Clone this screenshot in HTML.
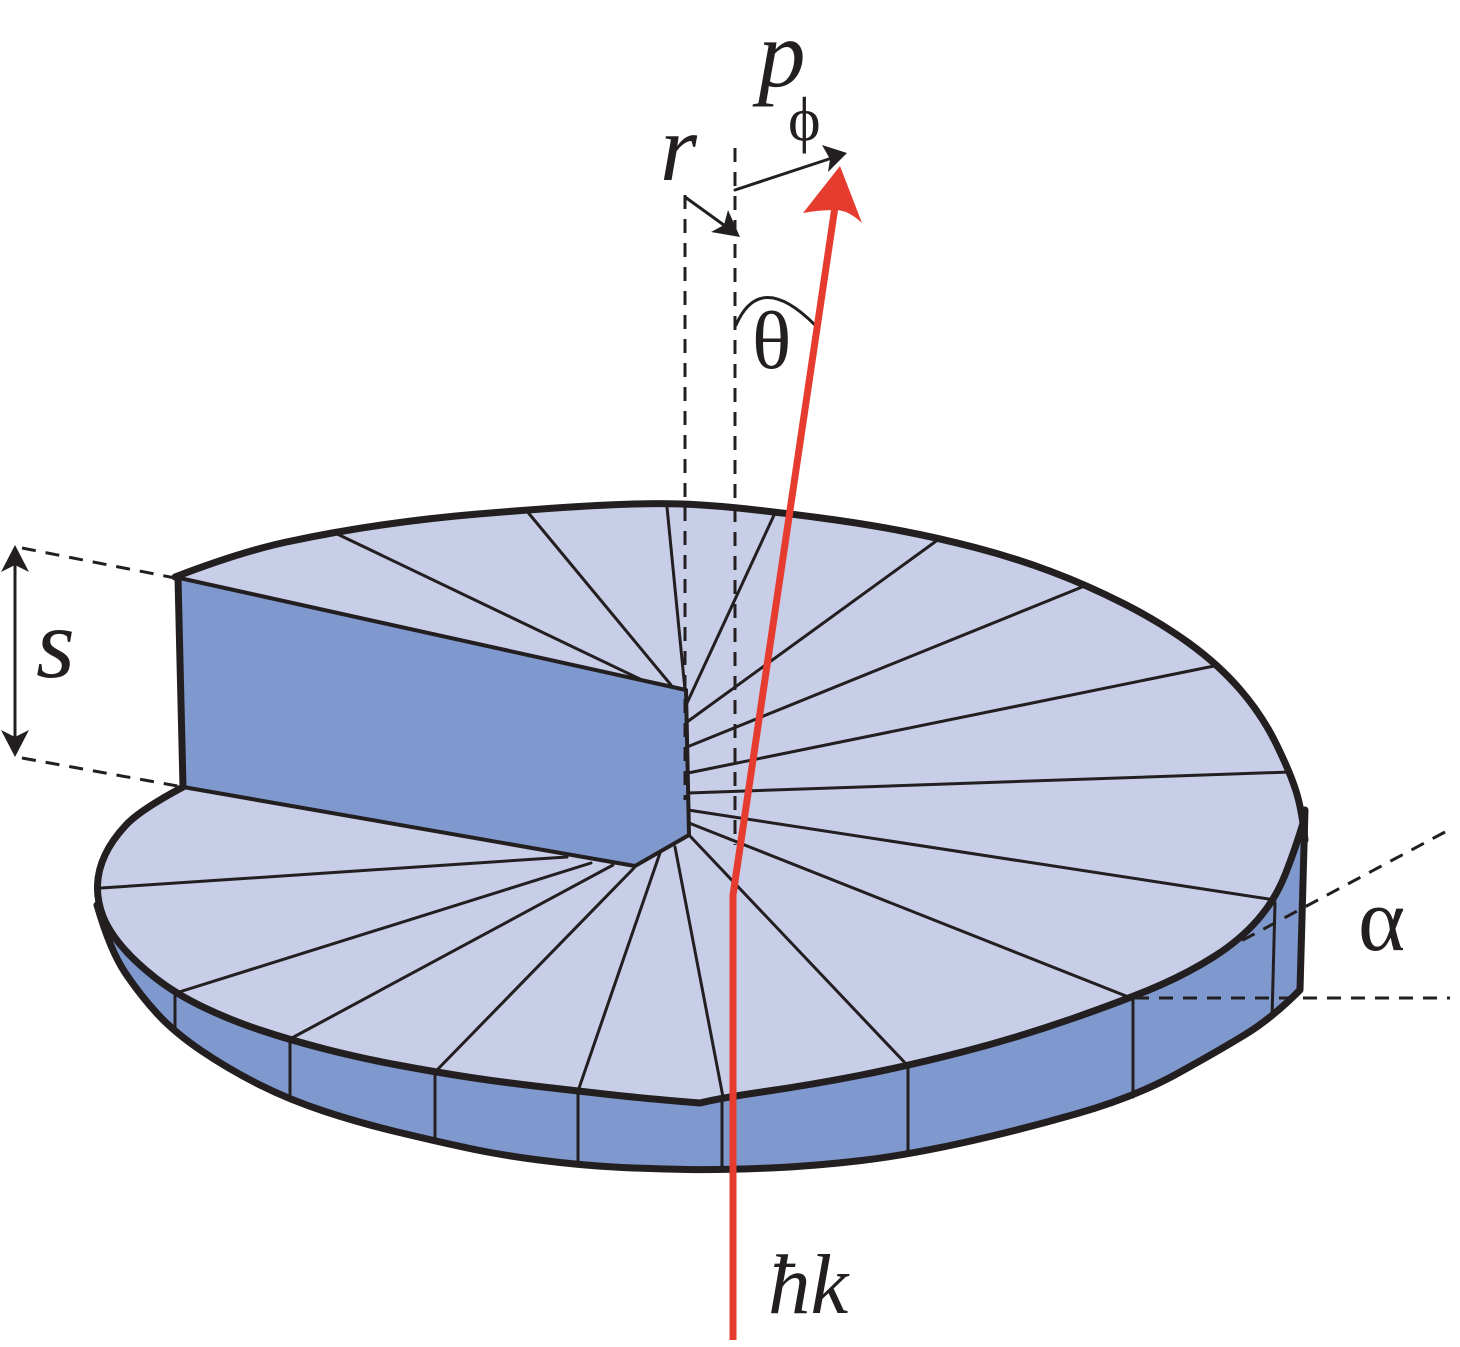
<!DOCTYPE html>
<html><head><meta charset="utf-8"><style>html,body{margin:0;padding:0;background:#fff}svg{display:block}</style></head><body>
<svg width="1460" height="1347" viewBox="0 0 1460 1347" xmlns="http://www.w3.org/2000/svg">
<g stroke="#231f20" fill="none" stroke-linejoin="round" stroke-linecap="round">
<!-- rim side -->
<path fill="#7f98cd" stroke="none" d="M1305,810 L1300,990 Q1272,1018 1246,1034 Q1220,1050 1177.5,1073.5 Q1135,1097 1077.5,1113.5 Q1020,1130 964,1142.5 Q908,1155 861.5,1160.5 Q815,1166 770,1168 Q725,1170 687.5,1169.5 Q650,1169 614,1167 Q578,1165 539,1160 Q500,1155 467.5,1148 Q435,1141 397.5,1132 Q360,1123 325,1111.5 Q290,1100 260,1085 Q230,1070 202.5,1051.5 Q175,1033 157.5,1014 Q140,995 125,972.5 Q110,950 97,905 L97,880 L183,787 L700,700 Z"/>
<!-- top surface -->
<path fill="#c8cde8" stroke="none" d="M175,577 Q240,552 286.5,542 Q333,532 381.5,525 Q430,518 478,514 Q526,510 563,507.5 Q600,505 633.5,504 Q667,503 693.5,504.5 Q720,506 747.5,509 Q775,512 817.5,517.5 Q860,523 899.5,530.5 Q939,538 977,548 Q1015,558 1051,571.5 Q1087,585 1123.5,603.5 Q1160,622 1189.5,643.5 Q1219,665 1240.5,690 Q1262,715 1276,743.5 Q1290,772 1296,791 Q1302,810 1305,840 L1304,820 Q1295,850 1285,875 Q1275,900 1257.5,920 Q1240,940 1215,956 Q1190,972 1160.5,985 Q1131,998 1075.5,1017.5 Q1020,1037 964,1051.5 Q908,1066 859,1075.5 Q810,1085 765,1091.5 Q720,1098 700,1103 Q640,1098 609,1094.5 Q578,1091 539,1086.5 Q500,1082 467.5,1077 Q435,1072 397.5,1065 Q360,1058 325,1049 Q290,1040 260,1030 Q230,1020 203,1007 Q176,994 155.5,978 Q135,962 121.5,946 Q108,930 102.5,915 Q97,900 97.5,885 Q98,870 105,855 Q112,840 126,825 Q140,810 183,787 Z"/>
<!-- step face -->
<path fill="#7f98cd" stroke="none" d="M175,577 L686,690 L689,835 L635,866 L183,787 Z"/>
<!-- radial lines -->
<g stroke-width="3">
<line x1="333" y1="532" x2="642" y2="680"/>
<line x1="526" y1="510" x2="671" y2="685"/>
<line x1="667" y1="507" x2="685" y2="690"/>
<line x1="775" y1="513" x2="687" y2="703"/>
<line x1="939" y1="539" x2="687" y2="722"/>
<line x1="1087" y1="585" x2="687" y2="747"/>
<line x1="1219" y1="665" x2="688" y2="773"/>
<line x1="1290" y1="772" x2="688" y2="793"/>
<line x1="1275" y1="900" x2="688" y2="810"/>
<line x1="1131" y1="998" x2="689" y2="823"/>
<line x1="908" y1="1066" x2="689" y2="835"/>
<line x1="723" y1="1097" x2="675" y2="847"/>
<line x1="578" y1="1091" x2="660" y2="853"/>
<line x1="437" y1="1070" x2="634" y2="868"/>
<line x1="290" y1="1039" x2="613" y2="865"/>
<line x1="176" y1="993" x2="591" y2="863"/>
<line x1="101" y1="888" x2="567" y2="857"/>
<line x1="175" y1="995" x2="175" y2="1033"/>
<line x1="290" y1="1040" x2="290" y2="1100"/>
<line x1="435" y1="1072" x2="435" y2="1141"/>
<line x1="578" y1="1091" x2="578" y2="1165"/>
<line x1="722" y1="1098" x2="722" y2="1170"/>
<line x1="908" y1="1066" x2="908" y2="1155"/>
<line x1="1133" y1="997" x2="1133" y2="1097"/>
<line x1="1275" y1="903" x2="1272" y2="1018"/>
</g>
<!-- step face edges -->
<path stroke-width="4" d="M175,577 L686,690 L689,835 L635,866 L183,787"/>
<line x1="178" y1="578" x2="183" y2="787" stroke-width="7"/>
<!-- outer edges -->
<path stroke-width="7" d="M175,577 Q240,552 286.5,542 Q333,532 381.5,525 Q430,518 478,514 Q526,510 563,507.5 Q600,505 633.5,504 Q667,503 693.5,504.5 Q720,506 747.5,509 Q775,512 817.5,517.5 Q860,523 899.5,530.5 Q939,538 977,548 Q1015,558 1051,571.5 Q1087,585 1123.5,603.5 Q1160,622 1189.5,643.5 Q1219,665 1240.5,690 Q1262,715 1276,743.5 Q1290,772 1296,791 Q1302,810 1305,840"/>
<path stroke-width="7" d="M1304,820 Q1295,850 1285,875 Q1275,900 1257.5,920 Q1240,940 1215,956 Q1190,972 1160.5,985 Q1131,998 1075.5,1017.5 Q1020,1037 964,1051.5 Q908,1066 859,1075.5 Q810,1085 765,1091.5 Q720,1098 700,1103 Q640,1098 609,1094.5 Q578,1091 539,1086.5 Q500,1082 467.5,1077 Q435,1072 397.5,1065 Q360,1058 325,1049 Q290,1040 260,1030 Q230,1020 203,1007 Q176,994 155.5,978 Q135,962 121.5,946 Q108,930 102.5,915 Q97,900 97.5,885 Q98,870 105,855 Q112,840 126,825 Q140,810 183,787"/>
<path stroke-width="7" d="M1305,810 L1300,990 Q1272,1018 1246,1034 Q1220,1050 1177.5,1073.5 Q1135,1097 1077.5,1113.5 Q1020,1130 964,1142.5 Q908,1155 861.5,1160.5 Q815,1166 770,1168 Q725,1170 687.5,1169.5 Q650,1169 614,1167 Q578,1165 539,1160 Q500,1155 467.5,1148 Q435,1141 397.5,1132 Q360,1123 325,1111.5 Q290,1100 260,1085 Q230,1070 202.5,1051.5 Q175,1033 157.5,1014 Q140,995 125,972.5 Q110,950 97,905"/>
<!-- dashed lines -->
<g stroke-width="3" stroke-dasharray="14,10" stroke-linecap="butt">
<line x1="685" y1="195" x2="685" y2="800"/>
<line x1="735" y1="148" x2="735" y2="845"/>
<line x1="22" y1="548" x2="175" y2="578"/>
<line x1="22" y1="758" x2="183" y2="787"/>
<line x1="1135" y1="998" x2="1450" y2="998"/>
<line x1="1445" y1="832" x2="1215" y2="955"/>
</g>
<line x1="15" y1="560" x2="15" y2="742" stroke-width="3"/>
<path fill="#231f20" stroke="none" d="M15,545 L29,572 L15,565 L1,572 Z M15,757 L29,730 L15,737 L1,730 Z"/>
<line x1="685" y1="197" x2="728" y2="228" stroke-width="3"/>
<path fill="#231f20" stroke="none" d="M740,237 L711,232 L724,225 L728,210 Z"/>
<line x1="735" y1="190" x2="835" y2="157" stroke-width="3"/>
<path fill="#231f20" stroke="none" d="M847,153 L822,145 L830,159 L828,172 Z"/>
<path stroke-width="3" d="M736,325 Q760,270 815,325"/>
</g>
<polyline points="733,1340 733,895 836,200" fill="none" stroke="#e63c2f" stroke-width="7"/>
<path fill="#e63c2f" d="M840,166 L862,223 Q848,210 836,210 Q818,210 803,213 Z"/>
<g font-family="Liberation Serif, serif" fill="#231f20">
<text x="660" y="180" font-size="95" font-style="italic">r</text>
<text x="758" y="86" font-size="95" font-style="italic">p</text>
<text x="788" y="140" font-size="62">ϕ</text>
<text x="752" y="368" font-size="82">θ</text>
<text x="36" y="677" font-size="100" font-style="italic">s</text>
<text x="1358" y="950" font-size="90">α</text>
<text x="768" y="1313" font-size="85" font-style="italic">ħk</text>
</g>
</svg>
</body></html>
